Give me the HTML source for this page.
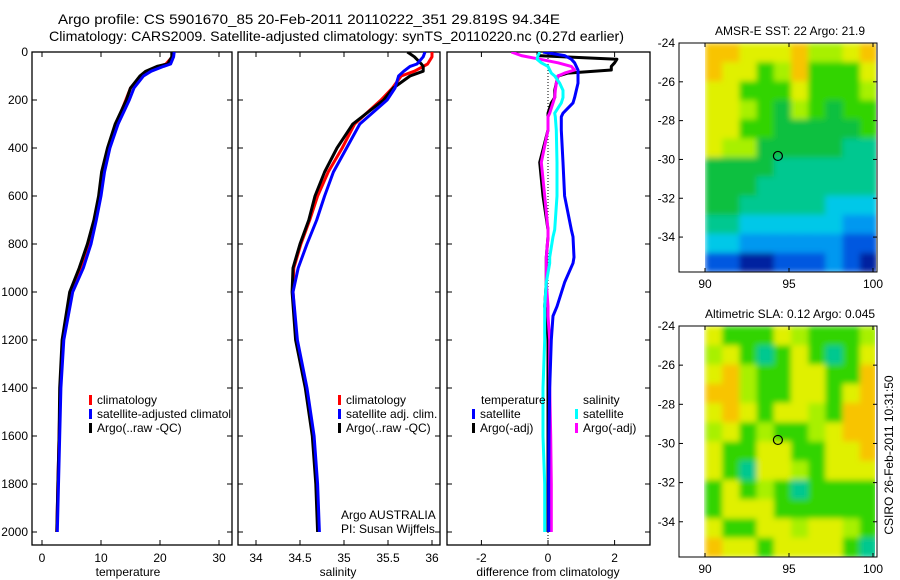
<!DOCTYPE html>
<html><head><meta charset="utf-8">
<style>
html,body{margin:0;padding:0;background:#fff;}
svg{display:block;font-family:"Liberation Sans",sans-serif;}
</style></head>
<body>
<svg id="fig" width="900" height="580" viewBox="0 0 900 580" xmlns="http://www.w3.org/2000/svg">
<defs>
<filter id="blur1" filterUnits="userSpaceOnUse" x="705" y="43" width="172" height="229"><feGaussianBlur stdDeviation="3" edgeMode="duplicate"/></filter>
<filter id="blur2" filterUnits="userSpaceOnUse" x="704" y="326" width="172" height="231"><feGaussianBlur stdDeviation="3" edgeMode="duplicate"/></filter>
<clipPath id="c1"><rect x="32" y="52" width="200" height="493"/></clipPath>
<clipPath id="c2"><rect x="238" y="52" width="202" height="493"/></clipPath>
<clipPath id="c3"><rect x="447" y="52" width="203" height="493"/></clipPath>
<clipPath id="cm1"><rect x="705" y="43" width="171" height="229"/></clipPath>
<clipPath id="cm2"><rect x="704" y="326" width="171" height="231"/></clipPath>
</defs>
<text x="58" y="24" font-size="14" textLength="502" lengthAdjust="spacingAndGlyphs">Argo profile: CS 5901670_85 20-Feb-2011 20110222_351 29.819S 94.34E</text>
<text x="49" y="41" font-size="14" textLength="575" lengthAdjust="spacingAndGlyphs">Climatology: CARS2009. Satellite-adjusted climatology: synTS_20110220.nc (0.27d earlier)</text>
<g id="root"></g>
</svg>
<script>
// ---- data ----
const depths = [0,20,50,60,80,100,150,200,300,400,500,600,700,800,900,1000,1200,1400,1600,1800,2000];
const tempArgo = [22.0,22.0,21.3,19.5,17.6,16.6,15.0,14.3,12.4,11.1,10.1,9.6,8.8,7.7,6.3,4.7,3.4,3.0,2.9,2.7,2.5];
const tempClim = [22.2,22.1,21.0,19.8,18.0,16.8,15.0,14.2,12.6,11.3,10.4,9.8,9.0,7.9,6.5,5.0,3.6,3.1,2.9,2.7,2.5];
const tempSat  = [22.4,22.3,21.8,20.6,18.5,17.2,15.6,14.8,12.9,11.5,10.6,10.0,9.2,8.3,7.0,5.2,3.7,3.2,3.0,2.8,2.6];
const salArgo = [35.72,35.80,35.88,35.90,35.90,35.75,35.56,35.45,35.10,34.92,34.78,34.67,34.60,34.50,34.42,34.41,34.45,34.56,34.64,34.68,34.70];
const salClim = [36.00,36.00,35.95,35.90,35.80,35.65,35.55,35.42,35.12,34.98,34.82,34.70,34.61,34.51,34.43,34.42,34.46,34.57,34.65,34.69,34.71];
const salSat  = [35.92,35.90,35.83,35.75,35.68,35.62,35.58,35.49,35.18,35.03,34.88,34.78,34.69,34.58,34.48,34.42,34.47,34.58,34.66,34.70,34.72];
const diffDepths = [0,15,30,45,60,75,88,100,130,160,190,212,255,270,325,460,600,740,770,855,880,960,1060,1100,1200,1400,1600,1800,2000];
const diffTempArgo = [-0.3,-0.3,2.07,2.0,1.9,1.9,0.6,0.3,0.25,0.2,0.2,0.1,0.0,0.0,0.0,-0.25,-0.15,0.0,0.0,-0.05,-0.05,-0.05,-0.1,-0.05,0.0,0.0,0.0,0.0,0.0];
const diffSalArgo  = [-1.1,-0.8,-0.25,0.3,0.7,0.8,0.5,0.3,0.25,0.22,0.2,0.15,0.05,0.0,0.0,-0.2,-0.1,0.0,0.0,-0.05,-0.05,-0.05,0.0,0.0,0.05,0.05,0.08,0.1,0.1];
const diffSalSat   = [-0.25,-0.3,-0.33,-0.2,0.0,0.05,0.1,0.2,0.35,0.45,0.45,0.4,0.2,0.22,0.25,0.27,0.27,0.2,0.15,0.05,0.05,-0.05,-0.1,-0.1,-0.1,-0.15,-0.15,-0.1,-0.1];
const diffTempSat  = [-0.15,0.5,0.7,0.8,0.85,0.9,0.9,0.9,0.9,0.85,0.8,0.75,0.45,0.4,0.4,0.45,0.5,0.7,0.75,0.78,0.75,0.5,0.27,0.15,0.1,0.05,0.03,0.02,0.02];
const depthTicks = [0,200,400,600,800,1000,1200,1400,1600,1800,2000];
const tempTicks = [0,10,20,30];
const salTicks = [34,34.5,35,35.5,36];
const salTickLabels = ["34","34.5","35","35.5","36"];
const diffTicks = [-2,0,2];
const latTicks = [-24,-26,-28,-30,-32,-34];
const lonTicks = [90,95,100];
const argoLon = 94.34, argoLat = -29.82;
const sstGrid = [
"OOYYYOLLYO","OYYGLOGGGY","YYGGGYGGGL","YYLGgLGgGG","YYGGgggggG","YLLgggggTT",
"ggggTTTTTT","gggTTTTTTT","ggTTTTTCCC","TTCCCCCCBB","CCBBBBBBDD","DDNNDDDBDN"];
const slaGrid = [
"YGGGYLGGGL","LYGTGYGTGY","YOLGGYYGGO","OOLGGYYGYO","YOYGYYLGOO","LYGLGGLYOO",
"YGGYYGGYYO","YGTYYLGYYY","GYGLGTGGGG","GYYYGGGGGG","YGGYYLYYLG","OYYGYYYYGT"];
const palette = {O:"#f8c400",Y:"#e0f000",L:"#a8f000",G:"#30d400",g:"#10c040",T:"#00c890",C:"#00c8e8",B:"#0098f0",D:"#0058e0",N:"#0020a0"};

// ---- helpers ----
const NS="http://www.w3.org/2000/svg";
const root=document.getElementById('root');
function mk(tag,attrs,parent){const e=document.createElementNS(NS,tag);for(const k in attrs)e.setAttribute(k,attrs[k]);(parent||root).appendChild(e);return e;}
const yP = p => 52 + 0.24*p;
const xT = t => 42 + 5.9*t;
const xS = s => 256 + 88*(s-34);
const xD = d => 548 + 33.3*d;
const BOT=545;

function panel(name,x0,x1,ticks,labels,xf,xlabel,xlabelX){
  const g=mk('g',{});
  
  
  const r=mk('rect',{x:x0,y:52,width:x1-x0,height:BOT-52,fill:'none',stroke:'#000','stroke-width':1.3},g);
  
  
  ticks.forEach((t,i)=>{
    const x=xf(t);
    mk('line',{x1:x,x2:x,y1:52,y2:57,stroke:'#000'},g);
    mk('line',{x1:x,x2:x,y1:BOT,y2:BOT-5,stroke:'#000'},g);
    const tx=mk('text',{x:x,y:562,'font-size':12,'text-anchor':'middle'},g);
    tx.textContent=labels[i];
    
    
  });
  depthTicks.forEach(p=>{
    mk('line',{x1:x0,x2:x0+5,y1:yP(p),y2:yP(p),stroke:'#000'},g);
    mk('line',{x1:x1,x2:x1-5,y1:yP(p),y2:yP(p),stroke:'#000'},g);
  });
  const xl=mk('text',{x:xlabelX,y:576,'font-size':12,'text-anchor':'middle'},g);
  xl.textContent=xlabel;
  
  
  return g;
}
function line(g,xs,ds,xf,color,clip,name){
  const pts=xs.map((v,i)=>xf(v).toFixed(1)+','+yP(ds[i]).toFixed(1)).join(' ');
  const pl=mk('polyline',{points:pts,fill:'none',stroke:color,'stroke-width':3,'stroke-linejoin':'round','clip-path':'url(#'+clip+')'},g);
  
  
}
function legend(g,x,y,items,name){
  items.forEach((it,i)=>{
    const yy=y+i*14;
    mk('rect',{x:x,y:yy-9,width:3,height:10,fill:it[1]},g);
    const t=mk('text',{x:x+8,y:yy,'font-size':12},g);
    t.textContent=it[0];
    
    
  });
}

// panel 1
const g1=panel('temperature-panel',32,232,tempTicks,tempTicks.map(String),xT,'temperature',128);
depthTicks.forEach(p=>{
  const t=mk('text',{x:28,y:yP(p)+4,'font-size':12,'text-anchor':'end'},g1);
  t.textContent=String(p);
  
  
});
line(g1,tempClim,depths,xT,'#f00','c1','temp-climatology-line');
line(g1,tempArgo,depths,xT,'#000','c1','temp-argo-line');
line(g1,tempSat,depths,xT,'#00f','c1','temp-satellite-line');
const lg1=mk('g',{'clip-path':'url(#c1)'},g1);
legend(lg1,89,404,[['climatology','#f00'],['satellite-adjusted climatology','#00f'],['Argo(..raw -QC)','#000']],'temp-legend');

// panel 2
const g2=panel('salinity-panel',238,440,salTicks,salTickLabels,xS,'salinity',338);
line(g2,salClim,depths,xS,'#f00','c2','sal-climatology-line');
line(g2,salArgo,depths,xS,'#000','c2','sal-argo-line');
line(g2,salSat,depths,xS,'#00f','c2','sal-satellite-line');
legend(g2,338,404,[['climatology','#f00'],['satellite adj. clim.','#00f'],['Argo(..raw -QC)','#000']],'sal-legend');
const a1=mk('text',{x:341,y:519,'font-size':12},g2);a1.textContent='Argo AUSTRALIA';


const a2=mk('text',{x:341,y:533,'font-size':12},g2);a2.textContent='PI: Susan Wijffels';



// panel 3
const g3=panel('difference-panel',447,650,diffTicks,['-2','0','2'],xD,'difference from climatology',548);
mk('line',{x1:xD(0),x2:xD(0),y1:52,y2:BOT,stroke:'#000','stroke-dasharray':'1,2','stroke-width':1},g3);
line(g3,diffTempArgo,diffDepths,xD,'#000','c3','diff-temp-argo-line');
line(g3,diffSalArgo,diffDepths,xD,'#f0f','c3','diff-sal-argo-line');
line(g3,diffSalSat,diffDepths,xD,'#0ff','c3','diff-sal-satellite-line');
line(g3,diffTempSat,diffDepths,xD,'#00f','c3','diff-temp-satellite-line');
const lt=mk('text',{x:481,y:404,'font-size':12},g3);lt.textContent='temperature';


const ls=mk('text',{x:583,y:404,'font-size':12},g3);ls.textContent='salinity';


legend(g3,472,418,[['satellite','#00f'],['Argo(-adj)','#000']],'diff-temp-legend');
legend(g3,575,418,[['satellite','#0ff'],['Argo(-adj)','#f0f']],'diff-sal-legend');

// maps
function map(name,grid,top,bot,clip,filt,title){
  const g=mk('g',{});
  
  
  const ys=(bot-top)/11.8;
  const xl=lon=>705+16.8*(lon-90);
  const yl=lat=>top+ys*(-24-lat);
  const img=mk('g',{'clip-path':'url(#'+clip+')'},g);
  const inner=mk('g',{filter:'url(#'+filt+')'},img);
  const rows=grid.length, cols=grid[0].length;
  const cw=172/cols, ch=(bot-top)/rows;
  grid.forEach((row,r)=>{[...row].forEach((c,k)=>{
    const cell=mk('rect',{x:(705+k*cw).toFixed(1),y:(top+r*ch).toFixed(1),width:(cw+0.6).toFixed(1),height:(ch+0.6).toFixed(1),fill:palette[c]},inner);
    
    
  });});
  mk('rect',{x:679,y:top,width:198,height:bot-top,fill:'none',stroke:'#000','stroke-width':1},g);
  lonTicks.forEach(l=>{
    mk('line',{x1:xl(l),x2:xl(l),y1:bot,y2:bot-4,stroke:'#000'},g);
    mk('line',{x1:xl(l),x2:xl(l),y1:top,y2:top+4,stroke:'#000'},g);
    const t=mk('text',{x:xl(l),y:bot+16,'font-size':12,'text-anchor':'middle'},g);
    t.textContent=String(l);
    
    
  });
  latTicks.forEach(l=>{
    mk('line',{x1:679,x2:683,y1:yl(l),y2:yl(l),stroke:'#000'},g);
    mk('line',{x1:877,x2:873,y1:yl(l),y2:yl(l),stroke:'#000'},g);
    const t=mk('text',{x:675,y:yl(l)+4,'font-size':12,'text-anchor':'end'},g);
    t.textContent=String(l);
    
    
  });
  const c=mk('circle',{cx:xl(argoLon),cy:yl(argoLat),r:4.5,fill:'none',stroke:'#000','stroke-width':1.2},g);
  
  
  const tt=mk('text',{x:790,y:top-8,'font-size':12,'text-anchor':'middle'},g);
  tt.textContent=title;
  
  
}
map('sst-map',sstGrid,43,272,'cm1','blur1','AMSR-E SST: 22 Argo: 21.9');
map('sla-map',slaGrid,326,557,'cm2','blur2','Altimetric SLA: 0.12 Argo: 0.045');
const st=mk('text',{x:0,y:0,'font-size':12,'text-anchor':'middle',transform:'translate(893,455) rotate(-90)'});
st.textContent='CSIRO 26-Feb-2011 10:31:50';


</script>
</body></html>
